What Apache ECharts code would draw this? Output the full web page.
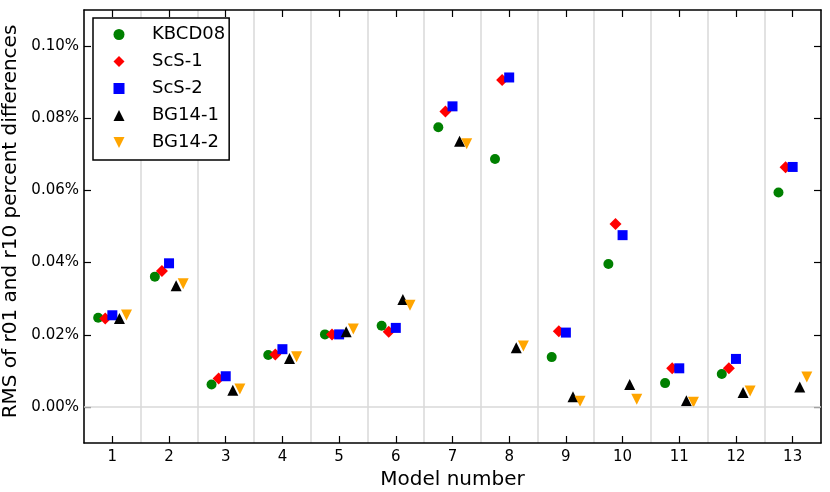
<!DOCTYPE html>
<html>
<head>
<meta charset="utf-8">
<script src="https://cdn.jsdelivr.net/npm/echarts@6/dist/echarts.min.js"></script>
<style>
  html, body { margin: 0; padding: 0; background: #fff; }
  #chart { width: 830px; height: 492px; }
</style>
</head>
<body>
<div id="chart"></div>
<script>
// model numbers along the x axis
var models = [1, 2, 3, 4, 5, 6, 7, 8, 9, 10, 11, 12, 13];
// y tick values (in percent)
var yTicks = [0, 0.02, 0.04, 0.06, 0.08, 0.10];

// RMS of r01 / r10 percent differences (percent)
var kbcd08 = [0.0247, 0.0361, 0.0062, 0.0144, 0.0201, 0.0225, 0.0775, 0.0687, 0.0138, 0.0396, 0.0066, 0.0091, 0.0594];
var scs1   = [0.0245, 0.0377, 0.0079, 0.0145, 0.0201, 0.0208, 0.0819, 0.0906, 0.0210, 0.0507, 0.0107, 0.0107, 0.0664];
var scs2   = [0.0254, 0.0398, 0.0085, 0.0160, 0.0201, 0.0219, 0.0833, 0.0913, 0.0206, 0.0476, 0.0107, 0.0133, 0.0665];
var bg141  = [0.0245, 0.0336, 0.0046, 0.0134, 0.0208, 0.0298, 0.0736, 0.0164, 0.0028, 0.0062, 0.0017, 0.0040, 0.0055];
var bg142  = [0.0255, 0.0341, 0.0050, 0.0139, 0.0216, 0.0282, 0.0729, 0.0169, 0.0016, 0.0021, 0.0013, 0.0044, 0.0083];

var seriesNames = ['KBCD08', 'ScS-1', 'ScS-2', 'BG14-1', 'BG14-2'];

var chart = echarts.init(document.getElementById('chart'), null, { renderer: 'canvas' });

// each series is nudged sideways inside its model slot
function points(vals, shift) {
  return vals.map(function (v, i) { return [models[i] + shift, v]; });
}

function scatter(name, vals, shift, symbol, size, color) {
  return {
    name: name,
    type: 'scatter',
    xAxisIndex: 0,
    yAxisIndex: 0,
    data: points(vals, shift),
    symbol: symbol,
    symbolSize: size,
    symbolKeepAspect: true,
    itemStyle: { color: color, opacity: 1 },
    emphasis: { disabled: true },
    z: 3
  };
}

// path markers keep their shape in the legend too
var diamondPath = 'path://M1,0L2,1L1,2L0,1Z';
var squarePath = 'path://M0,0L2,0L2,2L0,2Z';
var triUpPath = 'path://M1,0L2,2L0,2Z';
var triDownPath = 'path://M0,0L2,0L1,2Z';

var black = '#000';
var gridGray = '#d8d8d8';

var option = {
  animation: false,
  textStyle: { fontFamily: 'DejaVu Sans', color: black },
  grid: { left: 84, right: 9, top: 10, bottom: 49, containLabel: false, outerBoundsMode: 'none' },
  legend: {
    data: seriesNames,
    orient: 'vertical',
    left: 93,
    top: 18,
    // icons are centred in itemWidth, so the content box starts at the icon's left edge
    padding: [3, 4, 4, 20.5],
    itemGap: 0,
    itemWidth: 56,
    itemHeight: 11,
    backgroundColor: '#fff',
    borderColor: black,
    borderWidth: 1.5,
    borderRadius: 0,
    selectedMode: false,
    textStyle: { fontSize: 18, color: black, lineHeight: 27, fontFamily: 'DejaVu Sans' }
  },
  xAxis: [
    {
      type: 'value', position: 'bottom', min: 0.5, max: 13.5,
      name: 'Model number', nameLocation: 'middle', nameGap: 27,
      nameTextStyle: { fontSize: 20, color: black },
      axisLine: { show: true, onZero: false, lineStyle: { color: black, width: 1.5 } },
      axisTick: { show: true, inside: true, length: 7, customValues: models, lineStyle: { color: black, width: 1.2 } },
      axisLabel: { show: true, customValues: models, margin: 7, fontSize: 15, color: black },
      splitLine: { show: false }
    },
    {
      type: 'value', position: 'top', min: 0.5, max: 13.5,
      axisLine: { show: true, onZero: false, lineStyle: { color: black, width: 1.5 } },
      axisTick: { show: true, inside: true, length: 7, customValues: models, lineStyle: { color: black, width: 1.2 } },
      axisLabel: { show: false },
      splitLine: { show: false }
    },
    {
      // helper axis: draws the light separators between models (x = 0.5, 1.5, ...)
      type: 'value', position: 'bottom', min: 0, max: 26, interval: 2,
      axisLine: { show: false, onZero: false },
      axisTick: { show: false },
      axisLabel: { show: false },
      splitLine: { show: true, lineStyle: { color: gridGray, width: 1.5 } }
    }
  ],
  yAxis: [
    {
      type: 'value', position: 'left', min: -0.01, max: 0.11,
      name: 'RMS of r01 and r10 percent differences', nameLocation: 'middle', nameGap: 59,
      nameTextStyle: { fontSize: 20, color: black, padding: [0, 0, 0, 10] },
      axisLine: { show: true, onZero: false, lineStyle: { color: black, width: 1.5 } },
      axisTick: { show: true, inside: true, length: 7, customValues: yTicks, lineStyle: { color: black, width: 1.2 } },
      axisLabel: {
        show: true, customValues: yTicks, margin: 5, fontSize: 15, color: black,
        formatter: function (v) { return v.toFixed(2) + '%'; }
      },
      splitLine: { show: false }
    },
    {
      type: 'value', position: 'right', min: -0.01, max: 0.11,
      axisLine: { show: true, onZero: false, lineStyle: { color: black, width: 1.5 } },
      axisTick: { show: true, inside: true, length: 7, customValues: yTicks, lineStyle: { color: black, width: 1.2 } },
      axisLabel: { show: false },
      splitLine: { show: false }
    }
  ],
  series: [
    {
      // zero reference line, kept under the markers
      type: 'scatter', xAxisIndex: 0, yAxisIndex: 0, data: [], z: 1, silent: true,
      markLine: {
        silent: true, symbol: 'none', animation: false,
        label: { show: false },
        lineStyle: { color: gridGray, width: 1.5, type: 'solid' },
        emphasis: { disabled: true },
        data: [{ yAxis: 0 }]
      }
    },
    scatter('KBCD08', kbcd08, -0.25, 'circle', 10, '#008000'),
    scatter('ScS-1', scs1, -0.125, diamondPath, 12, '#ff0000'),
    scatter('ScS-2', scs2, 0, squarePath, 10, '#0000ff'),
    scatter('BG14-1', bg141, 0.125, triUpPath, 11, '#000000'),
    scatter('BG14-2', bg142, 0.25, triDownPath, 11, '#ffa500')
  ]
};

chart.setOption(option);
</script>
</body>
</html>
